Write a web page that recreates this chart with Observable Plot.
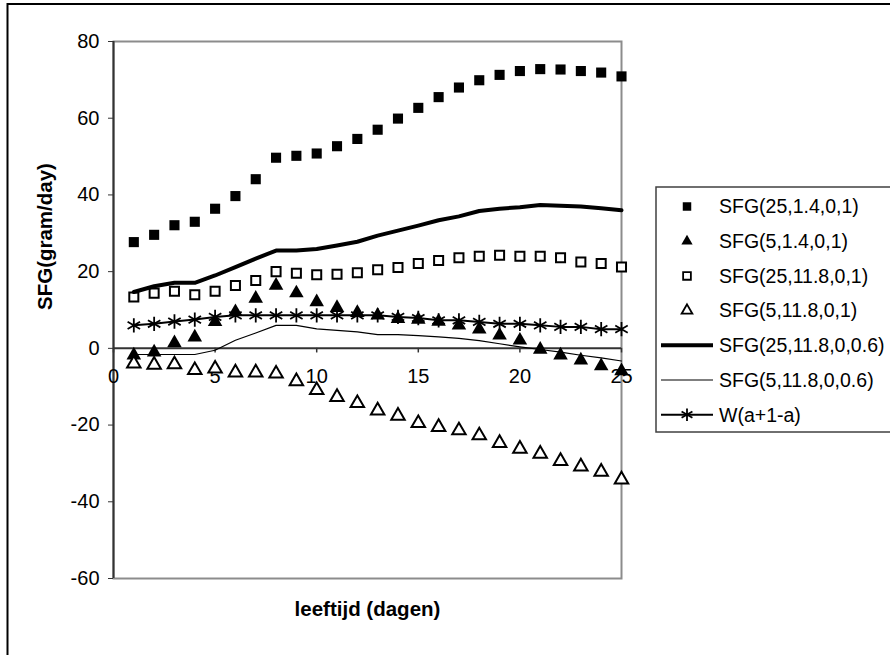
<!DOCTYPE html>
<html>
<head>
<meta charset="utf-8">
<script src="https://cdn.jsdelivr.net/npm/d3@7"></script>
<script src="https://cdn.jsdelivr.net/npm/@observablehq/plot@0.6"></script>
<style>
  html, body { margin: 0; padding: 0; background: #fff; overflow: hidden; }
  #chart svg { display: block; }
</style>
</head>
<body>
<div id="chart"></div>
<script>
// ---- data ----
const days = [1,2,3,4,5,6,7,8,9,10,11,12,13,14,15,16,17,18,19,20,21,22,23,24,25];
const sfg25_14_01  = [27.7,29.6,32.1,33.0,36.4,39.7,44.1,49.7,50.2,50.8,52.7,54.6,57.0,59.9,62.7,65.5,68.0,69.9,71.3,72.3,72.8,72.7,72.3,71.9,70.9];
const sfg5_14_01   = [-1.8,-1.0,1.4,2.9,6.9,9.5,13.0,16.4,14.4,12.1,10.6,9.3,8.6,7.7,7.5,7.0,6.0,5.0,3.4,2.1,-0.3,-1.8,-3.1,-4.6,-5.9];
const sfg25_118_01 = [13.4,14.4,14.9,14.0,14.9,16.4,17.7,20.0,19.6,19.2,19.3,19.7,20.5,21.1,22.1,22.9,23.6,24.0,24.3,24.0,24.0,23.6,22.5,22.1,21.2];
const sfg5_118_01  = [-4.0,-4.3,-4.2,-5.7,-5.3,-6.3,-6.3,-6.6,-8.6,-10.9,-12.7,-14.3,-16.2,-17.6,-19.5,-20.5,-21.4,-22.7,-24.7,-26.2,-27.5,-29.4,-30.8,-32.2,-34.2];
const sfg25_118_06 = [14.7,16.2,17.1,17.1,19.0,21.2,23.4,25.5,25.5,25.9,26.8,27.8,29.4,30.7,32.0,33.4,34.4,35.8,36.4,36.8,37.4,37.2,37.0,36.5,36.0];
const sfg5_118_06  = [-1.6,-1.6,-1.6,-1.6,-0.5,2.1,4.0,6.0,6.0,5.1,4.7,4.3,3.6,3.6,3.3,3.0,2.6,2.0,1.2,0.4,-0.3,-1.0,-1.8,-2.5,-3.3];
const wA1a         = [6.0,6.4,7.0,7.5,8.2,8.6,8.6,8.6,8.6,8.6,8.6,8.6,8.6,8.2,7.9,7.3,7.3,6.9,6.4,6.4,6.0,5.6,5.6,5.0,5.0];

const seriesNames = ["SFG(25,1.4,0,1)","SFG(5,1.4,0,1)","SFG(25,11.8,0,1)","SFG(5,11.8,0,1)","SFG(25,11.8,0,0.6)","SFG(5,11.8,0,0.6)","W(a+1-a)"];
const xTicks = [0,5,10,15,20,25];
const yTicks = [-60,-40,-20,0,20,40,60,80];
const xTitle = "leeftijd (dagen)";
const yTitle = "SFG(gram/day)";

const rows = arr => days.map((d, i) => ({day: d, v: arr[i]}));
const font = "'Liberation Sans', Arial, Helvetica, sans-serif";

const plot = Plot.plot({
  width: 890,
  height: 655,
  marginLeft: 113,
  marginRight: 269,
  marginTop: 41,
  marginBottom: 77,
  x: {domain: [0, 25], axis: null},
  y: {domain: [-60, 80]},
  style: {fontFamily: font, fontSize: "20px", background: "#fff", color: "#000"},
  marks: [
    Plot.frame({stroke: "#8c8c8c", strokeWidth: 2}),
    Plot.axisY(yTicks, {tickSize: 5, tickPadding: 9, fontSize: 20, label: null, stroke: "#333", tickFormat: d => String(d)}),
    Plot.ruleX([0], {stroke: "#333", strokeWidth: 2}),
    Plot.ruleY([0], {stroke: "#333", strokeWidth: 2}),
    Plot.ruleX(xTicks, {x: d => d, y1: 0, y2: -1.2, stroke: "#333", strokeWidth: 1.5}),
    Plot.text(xTicks, {x: d => d, y: 0, dy: 28, text: d => String(d), fontSize: 20, fill: "#000"}),
    Plot.text([yTitle], {frameAnchor: "left", dx: -68, rotate: -90, fontSize: 20.5, fontWeight: "bold", fill: "#000"}),
    Plot.text([xTitle], {frameAnchor: "bottom", dy: 37, fontSize: 20.5, fontWeight: "bold", fill: "#000"}),
    // series
    Plot.dot(rows(sfg25_14_01), {x: "day", y: "v", symbol: "square", r: 5.7, fill: "#000"}),
    Plot.dot(rows(sfg5_14_01), {x: "day", y: "v", symbol: "triangle", r: 5.4, fill: "#000"}),
    Plot.dot(rows(sfg25_118_01), {x: "day", y: "v", symbol: "square", r: 5.1, fill: "#fff", stroke: "#000", strokeWidth: 2}),
    Plot.dot(rows(sfg5_118_01), {x: "day", y: "v", symbol: "triangle", r: 5.0, fill: "#fff", stroke: "#000", strokeWidth: 2}),
    Plot.line(rows(sfg25_118_06), {x: "day", y: "v", stroke: "#000", strokeWidth: 4}),
    Plot.line(rows(sfg5_118_06), {x: "day", y: "v", stroke: "#000", strokeWidth: 1.2}),
    Plot.line(rows(wA1a), {x: "day", y: "v", stroke: "#000", strokeWidth: 2}),
    Plot.dot(rows(wA1a), {x: "day", y: "v", symbol: "asterisk", r: 6.8, stroke: "#000", strokeWidth: 1.8})
  ]
});

document.getElementById("chart").appendChild(plot);

// outer chart border and legend
const svg = d3.select(plot);
svg.append("rect")
  .attr("x", 7.5).attr("y", 4).attr("width", 900).attr("height", 700)
  .attr("fill", "none").attr("stroke", "#000").attr("stroke-width", 2);

const lg = svg.append("g").attr("text-anchor", "start");
lg.append("rect")
  .attr("x", 656).attr("y", 187).attr("width", 245).attr("height", 245)
  .attr("fill", "#fff").attr("stroke", "#404040").attr("stroke-width", 1.5);

const legendY0 = 206.5, legendStep = 34.7, mx = 687, tx = 719;
const legendStyles = [
  {sym: d3.symbolSquare, size: 72, fill: "#000", stroke: "none"},
  {sym: d3.symbolTriangle, size: 55, fill: "#000", stroke: "none"},
  {sym: d3.symbolSquare, size: 60, fill: "#fff", stroke: "#000", sw: 1.8},
  {sym: d3.symbolTriangle, size: 50, fill: "#fff", stroke: "#000", sw: 1.8},
  {line: 4},
  {line: 1.2},
  {line: 2, sym: d3.symbolAsterisk, size: 110, fill: "none", stroke: "#000", sw: 1.8}
];
seriesNames.forEach((name, i) => {
  const y = legendY0 + i * legendStep;
  const st = legendStyles[i];
  if (st.line) {
    lg.append("line").attr("x1", 661).attr("x2", 713).attr("y1", y).attr("y2", y)
      .attr("stroke", "#000").attr("stroke-width", st.line);
  }
  if (st.sym) {
    lg.append("path").attr("d", d3.symbol(st.sym, st.size)())
      .attr("transform", `translate(${mx},${y})`)
      .attr("fill", st.fill).attr("stroke", st.stroke).attr("stroke-width", st.sw || 0);
  }
  lg.append("text").attr("x", tx).attr("y", y).attr("dy", "0.35em")
    .attr("text-anchor", "start")
    .attr("font-family", font).attr("font-size", 19.5).attr("fill", "#000")
    .text(name);
});
</script>
</body>
</html>
